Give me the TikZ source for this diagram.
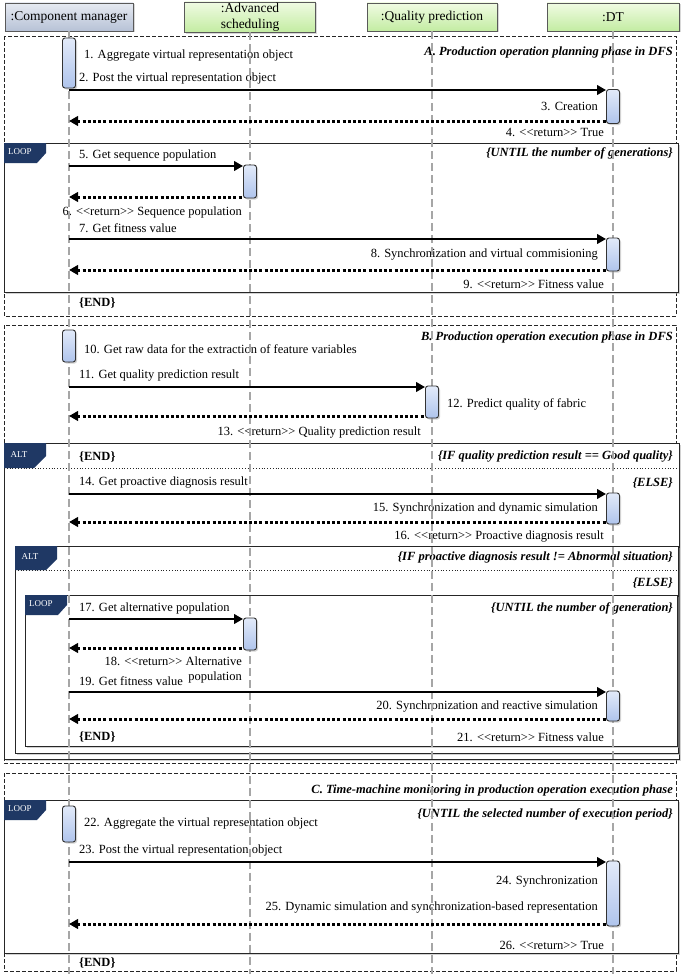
\documentclass[tikz,border=0pt]{standalone}
\usepackage{fontspec}
\setmainfont{Liberation Serif}
\usetikzlibrary{arrows.meta,shadows}
\definecolor{navy}{HTML}{1F3864}
\definecolor{cmtop}{HTML}{E6EAF2}
\definecolor{cmbot}{HTML}{B7C2D6}
\definecolor{grtop}{HTML}{F0FBE3}
\definecolor{grbot}{HTML}{C3ECA2}
\definecolor{acttop}{HTML}{E2EAF9}
\definecolor{actbot}{HTML}{AFC4EC}
\definecolor{lifegray}{HTML}{A6A6A6}
\newcommand{\rtn}{<{}<return>{}>}
\begin{document}
\begin{tikzpicture}[x=1pt,y=-1pt,
  font=\fontsize{12.5}{13}\selectfont,
  hdr/.style={draw=black!65, line width=0.7pt, minimum height=28pt, inner sep=1pt,
    font=\fontsize{13.5}{14}\selectfont, drop shadow={shadow xshift=1.5pt, shadow yshift=-1.5pt, fill=black!30}},
  hdrcm/.style={hdr, top color=cmtop, bottom color=cmbot},
  hdrgr/.style={hdr, top color=grtop, bottom color=grbot},
  lifeline/.style={draw=lifegray, line width=2pt, dash pattern=on 8pt off 4pt},
  act/.style={draw=black!80, line width=0.9pt, rounded corners=2.5pt, minimum width=13pt, inner sep=0pt,
    top color=acttop, bottom color=actbot, drop shadow={shadow xshift=1.5pt, shadow yshift=-1.5pt, fill=black!35}},
  msg/.style={line width=2.4pt, -{Triangle[length=9pt,width=9.5pt]}},
  ret/.style={line width=3pt, dash pattern=on 3pt off 2.2pt, {Triangle[length=9pt,width=9.5pt]}-},
  phase/.style={draw=black!85, line width=0.7pt, dash pattern=on 4pt off 2pt},
  sfrm/.style={draw=black!85, line width=1pt, fill=white, drop shadow={shadow xshift=2pt, shadow yshift=-2pt, fill=black!35}},
  sep/.style={draw=black!85, line width=0.8pt, dotted},
  lbl/.style={inner sep=0pt},
  lw/.style={lbl, anchor=west},
  le/.style={lbl, anchor=east},
  cond/.style={lbl, anchor=east, font=\fontsize{12.5}{13}\selectfont\bfseries\itshape},
  endl/.style={lbl, anchor=west, font=\fontsize{12.5}{13}\selectfont\bfseries},
  tagtxt/.style={text=white, font=\fontsize{9}{9}\selectfont, inner sep=0pt}
]
\useasboundingbox (0,0) rectangle (685,974);

% ---------- header ----------
\node[hdrcm, minimum width=128pt] (cm) at (69,17) {:Component manager};
\node[hdrgr, minimum width=131pt, align=center, font=\fontsize{13.5}{16}\selectfont] (as) at (250,17) {:Advanced\\scheduling};
\node[hdrgr, minimum width=130pt] (qp) at (432,17) {:Quality prediction};
\node[hdrgr, minimum width=132pt] (dt) at (613,17) {:DT};

% ---------- frames ----------
\draw[phase] (4,36) rectangle (676,316);
\draw[sfrm] (4,143) rectangle (678,292);
\fill[navy] (4,143) -- (46,143) -- (46,153) -- (37,163) -- (4,163) -- cycle;
\node[tagtxt] (tagl1) at (20,152) {LOOP};

\draw[phase] (4,325) rectangle (676,763);
\draw[sfrm] (4,443) rectangle (679,759);
\draw[sep] (4,468) -- (679,468);
\fill[navy] (4,443) -- (46,443) -- (46,456) -- (34,468) -- (4,468) -- cycle;
\node[tagtxt] (taga1) at (19,455) {ALT};
\draw[sfrm] (15,546) rectangle (678,753);
\draw[sep] (15,570) -- (678,570);
\fill[navy] (15,546) -- (57,546) -- (57,559) -- (46,570) -- (15,570) -- cycle;
\node[tagtxt] (taga2) at (30,557) {ALT};
\draw[sfrm] (25,595) rectangle (677,746);
\fill[navy] (25,595) -- (67,595) -- (67,605) -- (58,615) -- (25,615) -- cycle;
\node[tagtxt] (tagl2) at (41,604) {LOOP};

\draw[phase] (4,773) rectangle (676,971);
\draw[sfrm] (4,800) rectangle (678,953);
\fill[navy] (4,800) -- (46,800) -- (46,810) -- (37,820) -- (4,820) -- cycle;
\node[tagtxt] (tagl3) at (20,809) {LOOP};

% ---------- texts ----------
\node[cond] (pa) at (673,52) {A. Production operation planning phase in DFS};
\node[lw] (t1) at (84,56) {1. Aggregate virtual representation object};
\node[lw] (t2) at (79,78) {2. Post the virtual representation object};
\node[le] (t3) at (598,106) {3. Creation};
\node[le] (t4) at (604,132) {4. \rtn{} True};
\node[cond] (c1) at (673,153) {\{UNTIL the number of generations\}};
\node[lw] (t5) at (79,155) {5. Get sequence population};
\node[le] (t6) at (242,212) {6. \rtn{} Sequence population};
\node[lw] (t7) at (79,228) {7. Get fitness value};
\node[le] (t8) at (598,255) {8. Synchronization and virtual commisioning};
\node[le] (t9) at (604,284) {9. \rtn{} Fitness value};
\node[endl] (e1) at (79,303) {\{END\}};

\node[cond] (pb) at (673,337) {B. Production operation execution phase in DFS};
\node[lw] (t10) at (84,349) {10. Get raw data for the extraction of feature variables};
\node[lw] (t11) at (79,376) {11. Get quality prediction result};
\node[lw] (t12) at (447,404) {12. Predict quality of fabric};
\node[le] (t13) at (421,433) {13. \rtn{} Quality prediction result};
\node[endl] (e2) at (79,457) {\{END\}};
\node[cond] (c2) at (673,457) {\{IF quality prediction result == Good quality\}};
\node[lw] (t14) at (79,483) {14. Get proactive diagnosis result};
\node[cond] (c3) at (673,483) {\{ELSE\}};
\node[le] (t15) at (598,509) {15. Synchronization and dynamic simulation};
\node[le] (t16) at (604,537) {16. \rtn{} Proactive diagnosis result};
\node[cond] (c4) at (673,557) {\{IF proactive diagnosis result != Abnormal situation\}};
\node[cond] (c5) at (673,583) {\{ELSE\}};
\node[lw] (t17) at (79,608) {17. Get alternative population};
\node[cond] (c6) at (673,608) {\{UNTIL the number of generation\}};
\node[le, align=right, font=\fontsize{12.5}{15}\selectfont] (t18) at (242,670) {18. \rtn{} Alternative\\population};
\node[lw] (t19) at (79,681) {19. Get fitness value};
\node[le] (t20) at (598,707) {20. Synchronization and reactive simulation};
\node[endl] (e3) at (79,737) {\{END\}};
\node[le] (t21) at (604,737) {21. \rtn{} Fitness value};

\node[cond] (pc) at (673,790) {C. Time-machine monitoring in production operation execution phase};
\node[cond] (c7) at (673,814) {\{UNTIL the selected number of execution period\}};
\node[lw] (t22) at (84,824) {22. Aggregate the virtual representation object};
\node[lw] (t23) at (79,850) {23. Post the virtual representation object};
\node[le] (t24) at (598,882) {24. Synchronization};
\node[le] (t25) at (598,908) {25. Dynamic simulation and synchronization-based representation};
\node[le] (t26) at (604,945) {26. \rtn{} True};
\node[endl] (e4) at (79,963) {\{END\}};

% ---------- lifelines ----------
\coordinate (cmend) at (69,974);
\coordinate (asend) at (250,974);
\coordinate (qpend) at (432,974);
\coordinate (dtend) at (613,974);
\draw[lifeline] (cm.south) -- (cmend);
\draw[lifeline] (as.south) -- (asend);
\draw[lifeline] (qp.south) -- (qpend);
\draw[lifeline] (dt.south) -- (dtend);

% ---------- activations ----------
\node[act, minimum height=50pt] (a1) at (69,63) {};
\node[act, minimum height=34pt] (a3) at (613,106.5) {};
\node[act, minimum height=33pt] (a5) at (250,181.5) {};
\node[act, minimum height=33pt] (a8) at (613,254.5) {};
\node[act, minimum height=32pt] (a10) at (69,346) {};
\node[act, minimum height=32pt] (a12) at (432,402) {};
\node[act, minimum height=31pt] (a15) at (613,508.5) {};
\node[act, minimum height=32pt] (a17) at (250,634) {};
\node[act, minimum height=30pt] (a20) at (613,706) {};
\node[act, minimum height=36pt] (a22) at (69,824) {};
\node[act, minimum height=65pt] (a24) at (613,893.5) {};

% ---------- messages ----------
\draw[msg] (cm |- 0,90) -- (a3.west |- 0,90);
\draw[ret] (cm |- 0,121) -- (a3.west |- 0,121);
\draw[msg] (cm |- 0,166) -- (a5.west |- 0,166);
\draw[ret] (cm |- 0,197) -- (a5.west |- 0,197);
\draw[msg] (cm |- 0,239) -- (a8.west |- 0,239);
\draw[ret] (cm |- 0,270) -- (a8.west |- 0,270);
\draw[msg] (cm |- 0,387) -- (a12.west |- 0,387);
\draw[ret] (cm |- 0,416) -- (a12.west |- 0,416);
\draw[msg] (cm |- 0,494) -- (a15.west |- 0,494);
\draw[ret] (cm |- 0,522) -- (a15.west |- 0,522);
\draw[msg] (cm |- 0,619) -- (a17.west |- 0,619);
\draw[ret] (cm |- 0,648) -- (a17.west |- 0,648);
\draw[msg] (cm |- 0,692) -- (a20.west |- 0,692);
\draw[ret] (cm |- 0,719) -- (a20.west |- 0,719);
\draw[msg] (cm |- 0,862) -- (a24.west |- 0,862);
\draw[ret] (cm |- 0,924) -- (a24.west |- 0,924);
\end{tikzpicture}
\end{document}
